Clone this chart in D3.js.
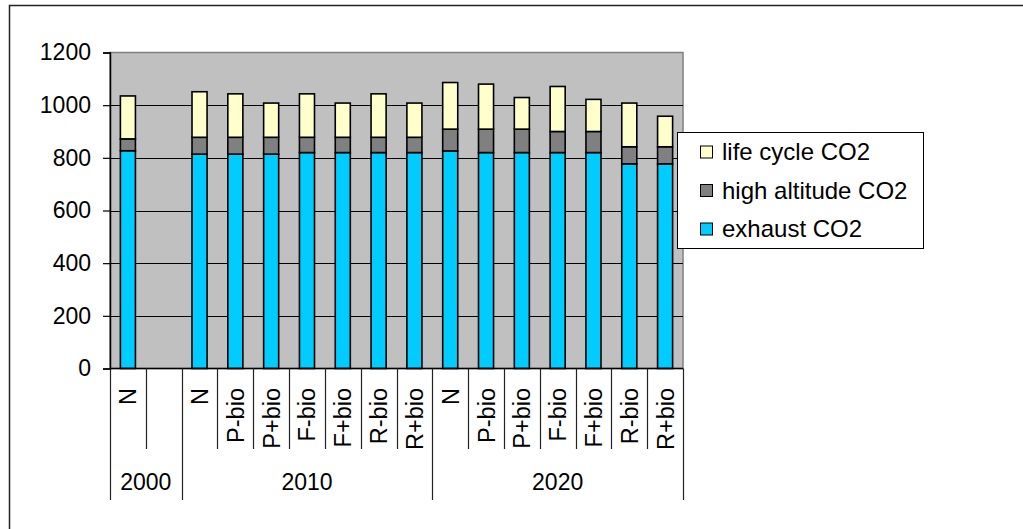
<!DOCTYPE html>
<html>
<head>
<meta charset="utf-8">
<script src="https://cdn.jsdelivr.net/npm/d3@7"></script>
<style>
  html, body { margin: 0; padding: 0; background: #fff; }
  svg { display: block; font-family: "Liberation Sans", Arial, sans-serif; }
</style>
</head>
<body>
<svg id="chart" width="1023" height="529"></svg>
<script>
// Scenario slots along the x axis (the empty slot keeps the 2000 group two wide)
const scenarios = ["N", "", "N", "P-bio", "P+bio", "F-bio", "F+bio", "R-bio", "R+bio",
                   "N", "P-bio", "P+bio", "F-bio", "F+bio", "R-bio", "R+bio"];
const yearLabels = ["2000", "2010", "2020"];
const yearSpans  = [2, 7, 7];

// Stacked components
const exhaustCO2      = [827, 0, 814, 814, 814, 820, 820, 820, 820, 826, 820, 820, 820, 820, 777, 777];
const highAltitudeCO2 = [45, 0, 64, 64, 64, 58, 58, 58, 58, 83, 89, 89, 80, 80, 65, 65];
const lifeCycleCO2    = [163, 0, 173, 165, 130, 165, 130, 165, 130, 177, 171, 120, 171, 122, 166, 116];

const seriesKeys   = ["exhaust", "high", "life"];
const seriesLabels = ["exhaust CO2", "high altitude CO2", "life cycle CO2"];
const seriesColors = ["#00CCFF", "#808080", "#FFFFCC"];

const yTicks = [0, 200, 400, 600, 800, 1000, 1200];

const rows = scenarios.map((s, i) => ({
  idx: i, name: s,
  exhaust: exhaustCO2[i], high: highAltitudeCO2[i], life: lifeCycleCO2[i]
}));

const svg = d3.select("#chart");
const plot = { left: 110, right: 683, top: 52.5, bottom: 368.5 };
const axisFont = 23;
const catFont = 23.5;
const legendFont = 24;

// outer chart frame
svg.append("rect")
  .attr("x", 9.5).attr("y", 5.5).attr("width", 1100).attr("height", 600)
  .attr("fill", "none").attr("stroke", "#222").attr("stroke-width", 1.5);

const y = d3.scaleLinear().domain([0, 1200]).range([plot.bottom, plot.top]);
const slot = d3.scaleBand().domain(d3.range(scenarios.length))
  .range([plot.left, plot.right]).padding(0);
const x = d3.scaleBand().domain(d3.range(scenarios.length))
  .range([plot.left, plot.right]).paddingInner(0.58).paddingOuter(0.29);

// plot background
svg.append("rect")
  .attr("x", plot.left).attr("y", plot.top)
  .attr("width", plot.right - plot.left).attr("height", plot.bottom - plot.top)
  .attr("fill", "#C0C0C0").attr("stroke", "#808080").attr("stroke-width", 1.5);

// gridlines
svg.append("g").selectAll("line")
  .data(yTicks.filter(t => t > 0 && t < 1200))
  .join("line")
  .attr("x1", plot.left).attr("x2", plot.right)
  .attr("y1", d => Math.round(y(d)) + 0.5).attr("y2", d => Math.round(y(d)) + 0.5)
  .attr("stroke", "#000").attr("stroke-width", 1);

// stacked bars
const stacked = d3.stack().keys(seriesKeys)(rows);
svg.append("g").selectAll("g")
  .data(stacked)
  .join("g")
  .attr("fill", (d, i) => seriesColors[i])
  .selectAll("rect")
  .data(d => d.filter(p => p[1] > p[0]))
  .join("rect")
  .attr("x", d => x(d.data.idx))
  .attr("width", x.bandwidth())
  .attr("y", d => y(d[1]))
  .attr("height", d => y(d[0]) - y(d[1]))
  .attr("stroke", "#000").attr("stroke-width", 1.6);

// y axis
const yAxis = d3.axisLeft(y).tickValues(yTicks).tickFormat(d3.format("d")).tickSize(7).tickPadding(12);
const gy = svg.append("g").attr("transform", `translate(${plot.left},0)`).call(yAxis);
gy.select(".domain").attr("stroke", "#000").attr("stroke-width", 1.5);
gy.selectAll(".tick line").attr("stroke", "#000").attr("stroke-width", 1.2);
gy.selectAll(".tick text")
  .attr("font-size", axisFont).attr("font-family", "Liberation Sans, Arial, sans-serif")
  .attr("fill", "#000");

// x axis baseline
svg.append("line")
  .attr("x1", plot.left).attr("x2", plot.right)
  .attr("y1", plot.bottom).attr("y2", plot.bottom)
  .attr("stroke", "#000").attr("stroke-width", 1.5);

// slot separators below the axis, longer at year boundaries
const bounds = [];
let acc = 0;
yearSpans.forEach(n => { acc += n; bounds.push(acc); });
const groupEdges = new Set([0, ...bounds]);
const sepIdx = d3.range(scenarios.length + 1);
svg.append("g").selectAll("line")
  .data(sepIdx)
  .join("line")
  .attr("x1", i => Math.round(i < scenarios.length ? slot(i) : plot.right) + 0.5)
  .attr("x2", i => Math.round(i < scenarios.length ? slot(i) : plot.right) + 0.5)
  .attr("y1", plot.bottom)
  .attr("y2", i => groupEdges.has(i) ? 500 : 449)
  .attr("stroke", "#222").attr("stroke-width", 1.2);

// scenario labels, rotated
svg.append("g").selectAll("text")
  .data(rows.filter(r => r.name !== ""))
  .join("text")
  .attr("transform", d => `translate(${slot(d.idx) + slot.bandwidth() / 2},388) rotate(-90)`)
  .attr("text-anchor", "end")
  .attr("dy", "0.36em")
  .attr("font-size", catFont)
  .attr("fill", "#000")
  .text(d => d.name);

// year labels
let start = 0;
const yearPos = yearSpans.map(n => {
  const a = slot(start), b = start + n < scenarios.length ? slot(start + n) : plot.right;
  start += n;
  return (a + b) / 2;
});
svg.append("g").selectAll("text")
  .data(yearLabels)
  .join("text")
  .attr("x", (d, i) => yearPos[i])
  .attr("y", 490)
  .attr("text-anchor", "middle")
  .attr("font-size", axisFont)
  .attr("fill", "#000")
  .text(d => d);

// legend
const legend = svg.append("g");
legend.append("rect")
  .attr("x", 677.5).attr("y", 132.5).attr("width", 246).attr("height", 116)
  .attr("fill", "#fff").attr("stroke", "#000").attr("stroke-width", 1);
const legendOrder = [2, 1, 0];
legendOrder.forEach((s, k) => {
  const cy = 152 + k * 38.5;
  legend.append("rect")
    .attr("x", 700.5).attr("y", cy - 6).attr("width", 12).attr("height", 12)
    .attr("fill", seriesColors[s]).attr("stroke", "#000").attr("stroke-width", 1);
  legend.append("text")
    .attr("x", 722).attr("y", cy).attr("dy", "0.35em")
    .attr("font-size", legendFont)
    .attr("fill", "#000")
    .text(seriesLabels[s]);
});
</script>
</body>
</html>
